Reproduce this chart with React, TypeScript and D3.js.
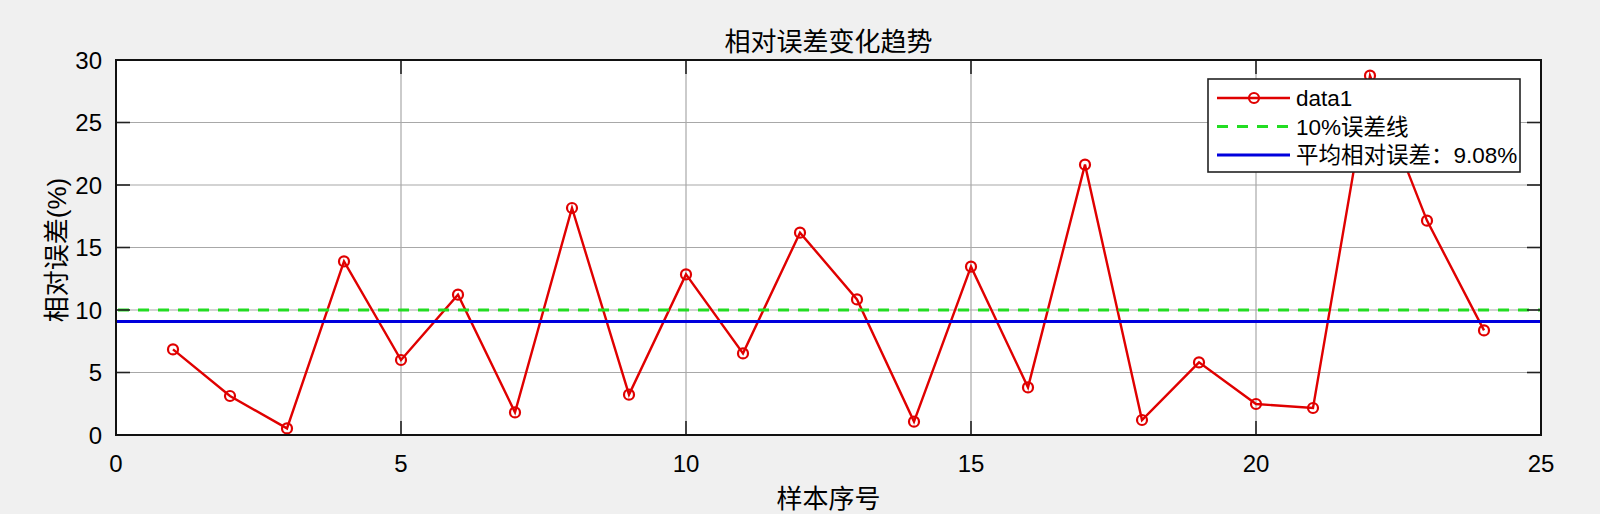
import React from "react";
import * as d3 from "d3";

const samples = [1,2,3,4,5,6,7,8,9,10,11,12,13,14,15,16,17,18,19,20,21,22,23,24];
const errors = [6.85,3.12,0.53,13.89,6.0,11.23,1.81,18.16,3.23,12.85,6.53,16.19,10.85,1.07,13.47,3.81,21.63,1.2,5.81,2.48,2.16,28.75,17.15,8.37];
const xTicks = [0,5,10,15,20,25];
const yTicks = [0,5,10,15,20,25,30];
const threshold = 10;
const meanError = 9.08;
const legendLabels = ["data1", "10%误差线", "平均相对误差：9.08%"];
const title = "相对误差变化趋势";
const xLabel = "样本序号";
const yLabel = "相对误差(%)";

const W = 1600, H = 514;
const L = 116, R = 1541, T = 60, B = 435;
const FONT = "'Liberation Sans', Arial, 'Noto Sans CJK SC', sans-serif";
const RED = "#e00000";
const GREEN = "#22dd22";
const BLUE = "#0000dd";

export default function App() {
  const x = d3.scaleLinear().domain([0, 25]).range([L, R]);
  const y = d3.scaleLinear().domain([0, 30]).range([B, T]);
  const line = d3.line<number>().x((_, i) => x(samples[i])).y((d) => y(d));
  const tick = 14;
  const lg = { x0: 1208, y0: 79, x1: 1520, y1: 172 };
  const rows = [98, 126.5, 155];
  return (
    <svg width={W} height={H} style={{ position: "absolute", left: 0, top: 0, background: "#f0f0f0" }} fontFamily={FONT}>
      <rect x={0} y={0} width={W} height={H} fill="#f0f0f0" />
      <rect x={L} y={T} width={R - L} height={B - T} fill="#fff" />
      {xTicks.slice(1, -1).map((t) => (
        <line key={"gx" + t} x1={x(t)} x2={x(t)} y1={T} y2={B} stroke="#a8a8a8" strokeWidth={1.2} />
      ))}
      {yTicks.slice(1, -1).map((t) => (
        <line key={"gy" + t} x1={L} x2={R} y1={y(t)} y2={y(t)} stroke="#a8a8a8" strokeWidth={1.2} />
      ))}
      <path d={line(errors) || ""} fill="none" stroke={RED} strokeWidth={2.4} />
      {errors.map((d, i) => (
        <circle key={i} cx={x(samples[i])} cy={y(d)} r={5} fill="none" stroke={RED} strokeWidth={2.2} />
      ))}
      <line x1={L} x2={R} y1={y(threshold)} y2={y(threshold)} stroke={GREEN} strokeWidth={3} strokeDasharray="11 9" strokeDashoffset={-2} />
      <line x1={L} x2={R} y1={y(meanError)} y2={y(meanError)} stroke={BLUE} strokeWidth={2.8} />
      {xTicks.map((t) => (
        <g key={"tx" + t}>
          <line x1={x(t)} x2={x(t)} y1={B} y2={B - tick} stroke="#222" strokeWidth={1.6} />
          <line x1={x(t)} x2={x(t)} y1={T} y2={T + tick} stroke="#222" strokeWidth={1.6} />
          <text x={x(t)} y={472} textAnchor="middle" fontSize={24} fill="#000">{t}</text>
        </g>
      ))}
      {yTicks.map((t) => (
        <g key={"ty" + t}>
          <line x1={L} x2={L + tick} y1={y(t)} y2={y(t)} stroke="#222" strokeWidth={1.6} />
          <line x1={R} x2={R - tick} y1={y(t)} y2={y(t)} stroke="#222" strokeWidth={1.6} />
          <text x={102} y={y(t) + 8.5} textAnchor="end" fontSize={24} fill="#000">{t}</text>
        </g>
      ))}
      <rect x={L} y={T} width={R - L} height={B - T} fill="none" stroke="#111" strokeWidth={2} />
      <text x={(L + R) / 2} y={51} textAnchor="middle" fontSize={26} fill="#000">{title}</text>
      <text x={(L + R) / 2} y={508} textAnchor="middle" fontSize={26} fill="#000">{xLabel}</text>
      <text transform={`translate(66,250) rotate(-90)`} textAnchor="middle" fontSize={26} fill="#000">{yLabel}</text>
      <rect x={lg.x0} y={lg.y0} width={lg.x1 - lg.x0} height={lg.y1 - lg.y0} fill="#fff" stroke="#222" strokeWidth={1.6} />
      <line x1={1217} x2={1290} y1={rows[0]} y2={rows[0]} stroke={RED} strokeWidth={2.4} />
      <circle cx={1254} cy={rows[0]} r={5} fill="none" stroke={RED} strokeWidth={2.2} />
      <line x1={1217} x2={1290} y1={rows[1]} y2={rows[1]} stroke={GREEN} strokeWidth={3} strokeDasharray="11 9" />
      <line x1={1217} x2={1290} y1={rows[2]} y2={rows[2]} stroke={BLUE} strokeWidth={2.8} />
      {legendLabels.map((s, i) => (
        <text key={s} x={1296} y={rows[i] + 8} fontSize={22.5} fill="#000">{s}</text>
      ))}
    </svg>
  );
}
